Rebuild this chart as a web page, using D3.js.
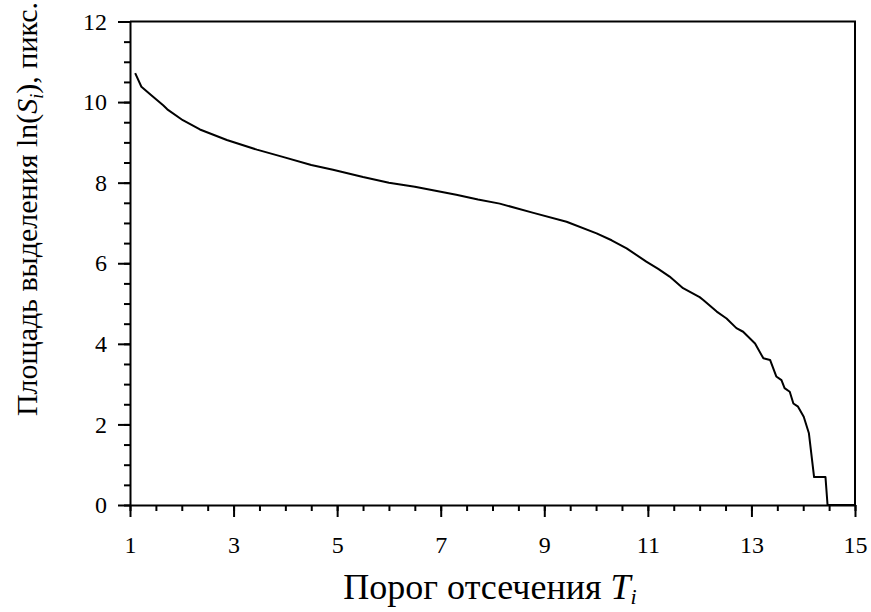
<!DOCTYPE html>
<html>
<head>
<meta charset="utf-8">
<script src="https://cdn.jsdelivr.net/npm/d3@7"></script>
<style>
  html, body { margin: 0; padding: 0; background: #fff; }
  svg { display: block; }
  svg text { font-family: "Liberation Serif", "Times New Roman", serif; fill: #000; }
</style>
</head>
<body>
<svg id="chart" width="871" height="612"></svg>
<script>
// Threshold T_i and log of selected area ln(S_i)
const thresholds = [1.1, 1.22, 1.4, 1.64, 1.72, 2.02, 2.35, 2.87, 3.45, 3.95, 4.5, 4.92, 5.5, 6.0, 6.5, 6.85, 7.3, 7.72, 8.14, 8.79, 9.43, 10.01, 10.3, 10.59, 10.97, 11.2, 11.42, 11.68, 12.0, 12.07, 12.33, 12.52, 12.71, 12.84, 13.07, 13.23, 13.36, 13.48, 13.58, 13.64, 13.74, 13.81, 13.9, 14.01, 14.11, 14.21, 14.43, 14.47, 15.0];
const lnArea = [10.72, 10.38, 10.18, 9.92, 9.82, 9.55, 9.32, 9.06, 8.82, 8.64, 8.44, 8.32, 8.14, 8.0, 7.9, 7.81, 7.7, 7.58, 7.48, 7.25, 7.03, 6.74, 6.57, 6.37, 6.04, 5.86, 5.67, 5.38, 5.16, 5.09, 4.8, 4.63, 4.39, 4.3, 4.01, 3.64, 3.6, 3.19, 3.1, 2.9, 2.81, 2.52, 2.44, 2.19, 1.78, 0.693, 0.693, 0, 0];

const xTicks = [1, 3, 5, 7, 9, 11, 13, 15];
const yTicks = [0, 2, 4, 6, 8, 10, 12];
const xMinorTicks = d3.range(1, 15.01, 0.5);
const yMinorTicks = d3.range(0, 12.01, 0.5);

const xTitle = "Порог отсечения ";
const yTitle = "Площадь выделения ";

const svg = d3.select("#chart");
const mLeft = 130, mRight = 855, mTop = 21.5, mBottom = 505;

const x = d3.scaleLinear().domain([1, 15]).range([mLeft, mRight]);
const y = d3.scaleLinear().domain([0, 12]).range([mBottom, mTop]);

// Minor ticks
svg.append("g")
  .attr("transform", `translate(0,${mBottom})`)
  .call(d3.axisBottom(x).tickValues(xMinorTicks).tickSize(6).tickFormat(""))
  .call(g => g.select(".domain").remove());
svg.append("g")
  .attr("transform", `translate(${mLeft},0)`)
  .call(d3.axisLeft(y).tickValues(yMinorTicks).tickSize(6).tickFormat(""))
  .call(g => g.select(".domain").remove());

// Major axes
const xAxis = svg.append("g")
  .attr("transform", `translate(0,${mBottom})`)
  .call(d3.axisBottom(x).tickValues(xTicks).tickSize(12).tickSizeOuter(0).tickFormat(d3.format("d")));
const yAxis = svg.append("g")
  .attr("transform", `translate(${mLeft},0)`)
  .call(d3.axisLeft(y).tickValues(yTicks).tickSize(12).tickSizeOuter(0).tickPadding(11).tickFormat(d3.format("d")));

svg.selectAll("g").attr("font-family", null).attr("font-size", null);
svg.selectAll(".tick line, .domain").attr("stroke", "#000").attr("stroke-width", 2);
svg.selectAll(".tick text")
  .style("font-family", "'Liberation Serif', 'Times New Roman', serif")
  .style("font-size", "24px").attr("fill", "#000");
xAxis.selectAll(".tick text").attr("y", 48).attr("dy", 0);

// Frame: top and right edges
svg.append("path")
  .attr("d", `M${mLeft},${mTop}H${mRight}V${mBottom}`)
  .attr("fill", "none").attr("stroke", "#000").attr("stroke-width", 2);

// Curve
const pts = thresholds.map((t, i) => [t, lnArea[i]]);
svg.append("path")
  .datum(pts)
  .attr("fill", "none")
  .attr("stroke", "#000")
  .attr("stroke-width", 2)
  .attr("stroke-linejoin", "round")
  .attr("d", d3.line().x(d => x(d[0])).y(d => y(d[1])));

// Axis titles
const xt = svg.append("text")
  .attr("x", 490).attr("y", 599)
  .attr("text-anchor", "middle")
  .style("font-size", "36px");
xt.append("tspan").text(xTitle);
xt.append("tspan").attr("font-style", "italic").text("T");
xt.append("tspan").attr("font-style", "italic").style("font-size", "22px").attr("dy", 5).text("i");

const yt = svg.append("text")
  .attr("transform", "translate(37,209) rotate(-90)")
  .attr("text-anchor", "middle")
  .style("font-size", "30px");
yt.append("tspan").text(yTitle + "ln(");
yt.append("tspan").attr("font-style", "italic").text("S");
yt.append("tspan").attr("font-style", "italic").style("font-size", "18px").attr("dy", 6).text("i");
yt.append("tspan").attr("dy", -6).text("), пикс.");
</script>
</body>
</html>
